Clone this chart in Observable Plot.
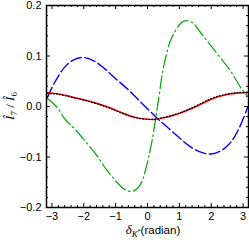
<!DOCTYPE html>
<html><head><meta charset="utf-8">
<script src="https://cdn.jsdelivr.net/npm/d3@7"></script>
<script src="https://cdn.jsdelivr.net/npm/@observablehq/plot@0.6"></script>
<style>body{margin:0;background:#fff}svg{display:block}</style>
</head><body><div id="chart"></div>
<script>
// Red solid curve
const redX = [-3.14, -2.8, -2.4, -2.0, -1.6, -1.2, -0.8, -0.4, 0.0, 0.2, 0.4, 0.8, 1.2, 1.6, 2.0, 2.4, 2.8, 3.14];
const redY = [0.027, 0.025, 0.0195, 0.0135, 0.0065, -0.002, -0.0125, -0.021, -0.025, -0.0255, -0.024, -0.018, -0.009, 0.002, 0.0145, 0.022, 0.026, 0.027];
// Black dotted curve (almost on top of red)
const blackX = [-3.14, -2.8, -2.4, -2.0, -1.6, -1.2, -0.8, -0.4, 0.0, 0.2, 0.4, 0.8, 1.2, 1.6, 2.0, 2.4, 2.8, 3.14];
const blackY = [0.026, 0.024, 0.0185, 0.0125, 0.0055, -0.003, -0.0135, -0.022, -0.0255, -0.0255, -0.023, -0.017, -0.008, 0.0035, 0.016, 0.0235, 0.0275, 0.0285];
// Blue dashed curve
const blueX = [-3.14, -2.92, -2.61, -2.3, -2.0, -1.7, -1.35, -1.0, -0.6, -0.2, 0.3, 0.66, 1.0, 1.35, 1.7, 2.0, 2.3, 2.61, 2.86, 3.14];
const blueY = [0.018, 0.047, 0.077, 0.093, 0.097, 0.091, 0.075, 0.055, 0.033, 0.008, -0.023, -0.043, -0.062, -0.080, -0.091, -0.094, -0.088, -0.071, -0.045, -0.002];
// Green dash-dot curve
const greenX = [-3.14, -2.83, -2.58, -2.26, -1.95, -1.58, -1.29, -0.9, -0.72, -0.47, -0.22, -0.06, 0.15, 0.36, 0.51, 0.78, 1.14, 1.41, 1.67, 2.08, 2.61, 2.95, 3.14];
const greenY = [0.016, -0.002, -0.026, -0.046, -0.069, -0.098, -0.125, -0.154, -0.164, -0.168, -0.154, -0.125, -0.065, 0.020, 0.080, 0.139, 0.169, 0.166, 0.146, 0.113, 0.070, 0.035, 0.020];

const xMajor = [-3, -2, -1, 0, 1, 2, 3];
const yMajor = [-0.2, -0.1, 0.0, 0.1, 0.2];
const xMinor = [-2.8,-2.6,-2.4,-2.2,-1.8,-1.6,-1.4,-1.2,-0.8,-0.6,-0.4,-0.2,0.2,0.4,0.6,0.8,1.2,1.4,1.6,1.8,2.2,2.4,2.6,2.8];
const yMinor = [-0.18,-0.16,-0.14,-0.12,-0.08,-0.06,-0.04,-0.02,0.02,0.04,0.06,0.08,0.12,0.14,0.16,0.18];

const toRows = (xs, ys) => xs.map((x, i) => ({x, y: ys[i]}));

const W = 249, H = 240, mL = 46, mR = 1, mT = 5, mB = 33;
const iw = W - mL - mR, ih = H - mT - mB;
const font = "Liberation Sans, Arial, Helvetica, sans-serif";

const svg = Plot.plot({
  width: W, height: H,
  marginLeft: mL, marginRight: mR, marginTop: mT, marginBottom: mB,
  style: {fontFamily: font, fontSize: "11px", background: "white", color: "black"},
  x: {domain: [-3.17, 3.17], axis: null},
  y: {domain: [-0.2, 0.2], axis: null},
  marks: [
    Plot.ruleX(xMajor, {x: d => d, insetTop: ih - 4, stroke: "black"}),
    Plot.ruleX(xMajor, {x: d => d, insetBottom: ih - 4, stroke: "black"}),
    Plot.ruleX(xMinor, {x: d => d, insetTop: ih - 2, stroke: "black"}),
    Plot.ruleX(xMinor, {x: d => d, insetBottom: ih - 2, stroke: "black"}),
    Plot.ruleY(yMajor, {y: d => d, insetRight: iw - 4, stroke: "black"}),
    Plot.ruleY(yMajor, {y: d => d, insetLeft: iw - 4, stroke: "black"}),
    Plot.ruleY(yMinor, {y: d => d, insetRight: iw - 2, stroke: "black"}),
    Plot.ruleY(yMinor, {y: d => d, insetLeft: iw - 2, stroke: "black"}),
    Plot.line(toRows(blueX, blueY), {x: "x", y: "y", curve: "catmull-rom", stroke: "#0000ff", strokeWidth: 1.4, strokeDasharray: "11,3.5"}),
    Plot.line(toRows(greenX, greenY), {x: "x", y: "y", curve: "catmull-rom", stroke: "#10a810", strokeWidth: 1.3, strokeDasharray: "13,3.5,1.5,3.5"}),
    Plot.line(toRows(redX, redY), {x: "x", y: "y", curve: "catmull-rom", stroke: "#ff0000", strokeWidth: 1.5}),
    Plot.line(toRows(blackX, blackY), {x: "x", y: "y", curve: "catmull-rom", stroke: "black", strokeWidth: 1.2, strokeDasharray: "1,2"}),
    Plot.frame({stroke: "black", strokeWidth: 1.5}),
    Plot.axisX(xMajor, {anchor: "bottom", tickSize: 0, tickPadding: 5, label: null, tickFormat: d3.format("d"), fontSize: 11}),
    Plot.axisY(yMajor, {anchor: "left", tickSize: 0, tickPadding: 5, label: null, tickFormat: d3.format(".1f"), fontSize: 11})
  ]
});

const s = d3.select(svg);
// x-axis label: δ_{K*}(radian)
const xl = s.append("text").attr("x", 153).attr("y", 234).attr("text-anchor", "middle")
  .attr("font-family", font).attr("font-size", 11.5).attr("fill", "black");
xl.append("tspan").attr("font-family", "Liberation Serif, serif").attr("font-style", "italic").attr("font-size", 13).text("δ");
xl.append("tspan").attr("font-family", "Liberation Serif, serif").attr("font-style", "italic").attr("font-size", 9).attr("dy", 2.5).text("K");
xl.append("tspan").attr("font-size", 7).attr("dy", -3).text("*");
xl.append("tspan").attr("dy", 0.5).text("(radian)");

// y-axis label: Î_7 / Î_6
const yl = s.append("text").attr("transform", "translate(14,106) rotate(-90)").attr("text-anchor", "middle")
  .attr("font-family", "Liberation Serif, serif").attr("font-size", 13).attr("fill", "black");
yl.append("tspan").attr("font-style", "italic").text("Î");
yl.append("tspan").attr("font-size", 9).attr("dy", 3).text("7");
yl.append("tspan").attr("dy", -3).text(" / ");
yl.append("tspan").attr("font-style", "italic").text("Î");
yl.append("tspan").attr("font-size", 9).attr("dy", 3).text("6");

document.getElementById("chart").appendChild(svg);
</script>
</body></html>
